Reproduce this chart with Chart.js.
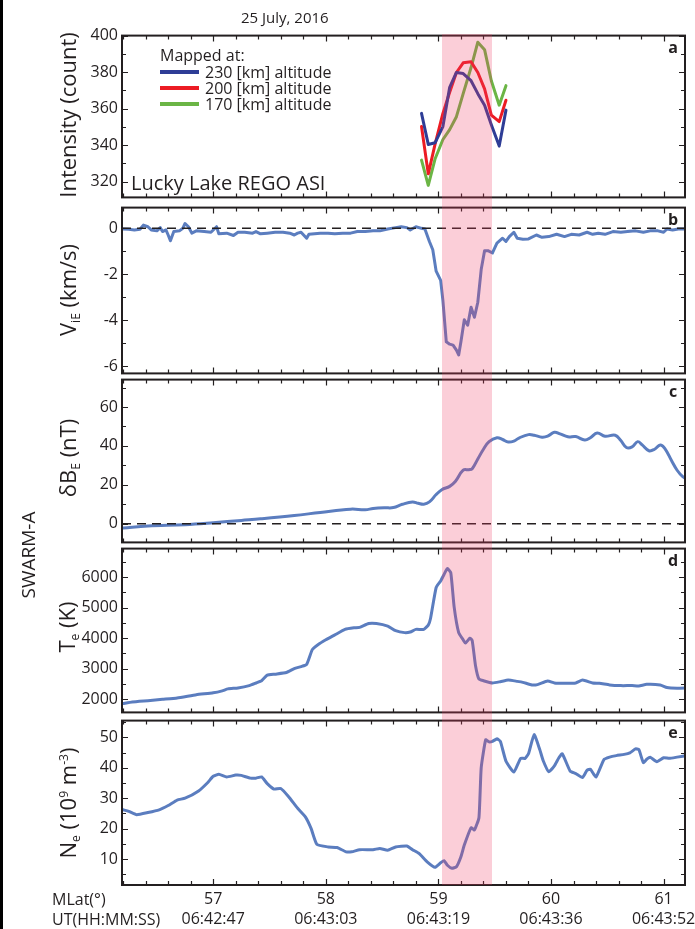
<!DOCTYPE html>
<html>
<head>
<meta charset="utf-8">
<script src="https://cdn.jsdelivr.net/npm/chart.js@4.4.1/dist/chart.umd.min.js"></script>
<style>
  body { margin: 0; background: #fff; font-family: "Open Sans", sans-serif; color: #231f20; }
  #wrap { position: relative; width: 695px; height: 929px; overflow: hidden; background: #fff; }
  canvas { position: absolute; left: 0; }
  .txt { position: absolute; white-space: nowrap; line-height: 1; transform: translateY(-50%); }
  .rot { position: absolute; white-space: nowrap; line-height: 1; transform: translate(-50%, -50%) rotate(-90deg); }
  sub { font-size: 0.55em; vertical-align: -0.35em; line-height: 0; }
  sup { font-size: 0.55em; vertical-align: 0.65em; line-height: 0; }
  .key { position: absolute; height: 4px; width: 39px; transform: translateY(-50%); }
  #band { position: absolute; top: 34px; height: 851px; background: rgba(240, 60, 100, 0.25); pointer-events: none; }
  #edge { position: absolute; left: 0; top: 0; width: 3px; height: 929px; background: #000; }
</style>
</head>
<body>
<div id="wrap">
  <canvas id="cA" width="720" height="189" style="top:22px"></canvas>
  <canvas id="cB" width="720" height="193" style="top:194px"></canvas>
  <canvas id="cC" width="720" height="190" style="top:366px"></canvas>
  <canvas id="cD" width="720" height="191" style="top:535px"></canvas>
  <canvas id="cE" width="720" height="222" style="top:707px"></canvas>
  <div id="band"></div>
  <div id="edge"></div>

  <div class="txt" style="left:241px;top:17px;font-size:15px">25 July, 2016</div>
  <div id="legend"></div>
  <div class="txt" style="left:131px;top:183px;font-size:20px">Lucky Lake REGO ASI</div>

  <div class="rot" style="left:67px;top:115px;font-size:22px">Intensity (count)</div>
  <div class="rot" style="left:67px;top:290px;font-size:22px">V<sub>iE</sub> (km/s)</div>
  <div class="rot" style="left:67px;top:458px;font-size:22px">δB<sub>E</sub> (nT)</div>
  <div class="rot" style="left:28px;top:555px;font-size:19px">SWARM-A</div>
  <div class="rot" style="left:66px;top:627px;font-size:22px">T<sub>e</sub> (K)</div>
  <div class="rot" style="left:67px;top:803px;font-size:22px">N<sub>e</sub> (10<sup>9</sup> m<sup>-3</sup>)</div>

  <div class="txt" style="left:52px;top:899px;font-size:16px">MLat(°)</div>
  <div class="txt" style="left:52px;top:919px;font-size:16px">UT(HH:MM:SS)</div>
</div>

<script>
// x axis
const mlatTicks = [57, 58, 59, 60, 61];
const utTicks = ["06:42:47", "06:43:03", "06:43:19", "06:43:36", "06:43:52"];
const bandMlat = [59.035, 59.48];

// panel a - REGO intensity at three mapping altitudes
const aMlat = [58.85, 58.91, 58.97, 59.04, 59.10, 59.16, 59.22, 59.29, 59.35, 59.41, 59.47, 59.54, 59.60];
const a230 = [357.4, 340.4, 341.3, 350.2, 371.7, 379.8, 379.2, 375.3, 368.2, 361.9, 351.2, 339.5, 359.2];
const a200 = [350.2, 324.3, 340.4, 357.4, 369.0, 379.8, 385.1, 385.7, 379.8, 370.8, 356.5, 352.9, 364.6];
const a170 = [331.8, 318.0, 332.4, 343.1, 348.5, 355.6, 368.2, 382.5, 396.4, 392.3, 375.3, 361.9, 372.6];
const altLabels = ["230 [km] altitude", "200 [km] altitude", "170 [km] altitude"];
const aTicks = [320, 340, 360, 380, 400];

// panel b - V_iE
const bMlat = [56.20,56.25,56.30,56.35,56.38,56.42,56.45,56.50,56.53,56.55,56.58,56.60,56.62,56.65,56.70,56.73,56.75,56.78,56.81,56.85,56.92,56.98,57.03,57.05,57.12,57.18,57.22,57.28,57.35,57.38,57.42,57.48,57.55,57.62,57.68,57.72,57.75,57.78,57.83,57.85,57.95,58.02,58.08,58.15,58.22,58.28,58.35,58.42,58.48,58.55,58.62,58.67,58.72,58.75,58.80,58.85,58.88,58.92,58.95,58.98,59.02,59.04,59.07,59.10,59.13,59.16,59.18,59.20,59.23,59.26,59.29,59.32,59.35,59.38,59.41,59.44,59.48,59.52,59.57,59.60,59.63,59.67,59.70,59.75,59.80,59.87,59.92,59.98,60.05,60.12,60.18,60.25,60.32,60.37,60.42,60.48,60.55,60.62,60.68,60.75,60.82,60.88,60.95,61.00,61.03,61.08,61.13,61.18,61.22];
const bVie = [-0.03,-0.04,-0.07,-0.04,0.14,0.07,-0.07,-0.11,0.03,-0.14,-0.07,-0.29,-0.54,-0.14,-0.11,0.0,0.21,0.07,-0.21,-0.11,-0.14,-0.17,0.07,-0.24,-0.21,-0.31,-0.17,-0.17,-0.21,-0.14,-0.24,-0.21,-0.17,-0.17,-0.21,-0.29,-0.21,-0.17,-0.43,-0.26,-0.21,-0.21,-0.24,-0.21,-0.21,-0.14,-0.14,-0.11,-0.11,-0.03,0.03,0.07,0.03,-0.07,0.07,0.0,-0.03,-0.57,-0.93,-1.86,-2.26,-3.14,-4.93,-5.03,-5.07,-5.29,-5.5,-4.93,-3.97,-4.21,-3.43,-3.86,-3.21,-1.79,-0.97,-0.97,-1.07,-0.64,-0.43,-0.57,-0.36,-0.17,-0.43,-0.47,-0.46,-0.29,-0.39,-0.36,-0.26,-0.36,-0.26,-0.29,-0.17,-0.26,-0.21,-0.26,-0.14,-0.17,-0.14,-0.11,-0.17,-0.11,-0.11,-0.17,-0.03,-0.07,-0.03,-0.03,-0.07];
const bTicks = [0, -2, -4, -6];

// panel c - dB_E
const cMlat = [56.20,56.42,56.75,57.00,57.25,57.42,57.72,57.95,58.22,58.35,58.42,58.52,58.60,58.68,58.77,58.82,58.87,58.92,58.98,59.03,59.10,59.15,59.22,59.27,59.30,59.35,59.40,59.45,59.52,59.57,59.62,59.67,59.72,59.80,59.85,59.92,59.97,60.03,60.08,60.15,60.22,60.30,60.35,60.41,60.48,60.57,60.62,60.67,60.72,60.77,60.81,60.87,60.92,60.97,61.01,61.07,61.12,61.17,61.22];
const cDb = [-2.2,-1.2,-0.5,0.5,1.7,2.5,4.2,5.8,7.5,7.2,7.8,8.2,8.3,10,11.2,10.5,10,11.2,15,17.5,19.2,21.7,27.5,27.8,28.3,33.3,38.3,42.2,44.2,43.3,42,42.5,44.2,45.8,45.5,44.5,45,47,46.2,44.7,44.8,43,44.2,46.7,45,45.5,42.8,39.2,39.5,42.2,40.5,37.5,38.3,40.5,38.8,32.5,27.5,24.2,22.5];
const cTicks = [0, 20, 40, 60];

// panel d - T_e
const dMlat = [56.20,56.28,56.42,56.55,56.68,56.85,57.00,57.08,57.13,57.22,57.32,57.38,57.43,57.48,57.55,57.65,57.72,57.78,57.83,57.88,57.93,58.00,58.08,58.17,58.25,58.30,58.38,58.45,58.55,58.62,58.70,58.75,58.80,58.87,58.91,58.93,58.98,59.02,59.05,59.08,59.11,59.14,59.18,59.22,59.24,59.28,59.30,59.33,59.36,59.40,59.48,59.55,59.62,59.70,59.75,59.83,59.88,59.97,60.03,60.12,60.22,60.28,60.37,60.43,60.52,60.62,60.72,60.78,60.85,60.97,61.03,61.12,61.22];
const dTe = [1861,1914,1957,2000,2043,2150,2214,2278,2342,2374,2449,2535,2610,2791,2824,2877,3005,3070,3144,3626,3786,3947,4107,4289,4342,4353,4481,4481,4396,4246,4182,4203,4289,4289,4428,4642,5658,5872,6085,6278,6139,5016,4182,3947,3840,4000,3925,3091,2663,2610,2535,2578,2631,2588,2556,2471,2481,2599,2535,2524,2535,2631,2535,2524,2471,2449,2449,2438,2492,2471,2385,2364,2374];
const dTicks = [2000, 3000, 4000, 5000, 6000];

// panel e - N_e
const eMlat = [56.20,56.25,56.32,56.42,56.52,56.60,56.68,56.75,56.87,56.95,57.00,57.05,57.12,57.20,57.25,57.33,57.38,57.43,57.48,57.54,57.60,57.67,57.75,57.82,57.87,57.92,58.02,58.10,58.18,58.23,58.30,58.42,58.48,58.55,58.62,58.72,58.77,58.83,58.90,58.97,59.02,59.05,59.08,59.12,59.16,59.20,59.23,59.29,59.32,59.36,59.38,59.42,59.45,59.48,59.52,59.55,59.60,59.67,59.73,59.77,59.80,59.85,59.90,59.93,59.98,60.03,60.07,60.10,60.17,60.22,60.28,60.32,60.35,60.40,60.47,60.52,60.58,60.65,60.70,60.75,60.78,60.82,60.85,60.88,60.94,61.00,61.05,61.12,61.22];
const eNe = [26.2,25.7,24.6,25.3,26.2,27.6,29.4,30.0,32.4,35.1,37.2,37.9,37.0,37.6,37.5,36.6,36.6,37.0,34.8,33.0,33.2,30.5,26.7,23.8,20.0,14.9,14.0,13.8,12.4,12.4,13.1,13.1,13.5,12.9,14.0,14.3,13.1,11.8,9.1,7.3,8.8,9.5,8.0,7.0,7.5,10.8,14.6,20.3,19.6,23.6,40.0,49.2,48.5,48.7,49.5,48.7,42.2,38.6,43.1,43.1,44.6,50.9,46.0,42.4,38.7,40.6,43.3,44.6,38.9,38.1,36.8,39.2,39.5,37.0,42.7,43.5,44.0,44.4,44.9,46.2,46.0,41.7,42.8,43.5,42.0,43.3,43.1,43.5,44.1];
const eTicks = [10, 20, 30, 40, 50];

const ink = "#231f20";
const swarmBlue = "#5b7dbf";
const altColors = ["#2e3d96", "#ec1c24", "#6bb545"];
const fontFamily = '"Open Sans", sans-serif';
const xMin = 56.19, xMax = 61.19;

function pts(xs, ys) {
  return xs.map((x, i) => ({ x: x, y: ys[i] }));
}

// frame, inward ticks, zero line and panel letter
const panelPlugin = {
  id: "panel",
  afterDatasetsDraw(chart, args, opts) {
    const ctx = chart.ctx;
    const ca = chart.chartArea;
    const x = chart.scales.x, y = chart.scales.y;
    ctx.save();
    if (opts.zero) {
      const y0 = y.getPixelForValue(0);
      ctx.strokeStyle = ink;
      ctx.lineWidth = 1.5;
      ctx.setLineDash([9, 6]);
      ctx.beginPath();
      ctx.moveTo(ca.left, y0);
      ctx.lineTo(ca.right, y0);
      ctx.stroke();
      ctx.setLineDash([]);
    }
    ctx.strokeStyle = ink;
    ctx.lineWidth = 1.2;
    ctx.beginPath();
    for (let v = 56.2; v < xMax; v += 0.2) {
      const major = Math.abs(v - Math.round(v)) < 0.01;
      const len = major ? 6 : 4;
      const px = Math.round(x.getPixelForValue(v)) + 0.5;
      ctx.moveTo(px, ca.top); ctx.lineTo(px, ca.top + len);
      ctx.moveTo(px, ca.bottom); ctx.lineTo(px, ca.bottom - len);
    }
    const step = opts.minor;
    for (let v = Math.ceil(y.min / step) * step; v <= y.max; v += step) {
      const major = Math.abs(v / opts.major - Math.round(v / opts.major)) < 0.01;
      const len = major ? 6 : 4;
      const py = Math.round(y.getPixelForValue(v)) + 0.5;
      ctx.moveTo(ca.left, py); ctx.lineTo(ca.left + len, py);
      ctx.moveTo(ca.right, py); ctx.lineTo(ca.right - len, py);
    }
    ctx.stroke();
    ctx.lineWidth = 2;
    ctx.strokeRect(ca.left, ca.top, ca.right - ca.left, ca.bottom - ca.top);
    ctx.fillStyle = ink;
    ctx.font = "bold 16px " + fontFamily;
    ctx.textAlign = "center";
    ctx.textBaseline = "middle";
    ctx.fillText(opts.letter, ca.right - 12, ca.top + 13);
    ctx.restore();
  }
};

function makePanel(id, datasets, yMin, yMax, yTicks, major, minor, letter, zero, showX) {
  return new Chart(document.getElementById(id), {
    type: "line",
    data: { datasets: datasets },
    options: {
      responsive: false,
      animation: false,
      devicePixelRatio: 1,
      layout: { padding: { top: 12, bottom: showX ? 0 : 12, left: 0, right: 35 } },
      elements: { point: { radius: 0 }, line: { borderWidth: 3, borderJoinStyle: "round", borderCapStyle: "round" } },
      plugins: {
        legend: { display: false },
        tooltip: { enabled: false },
        panel: { letter: letter, zero: zero, major: major, minor: minor }
      },
      scales: {
        x: {
          type: "linear",
          min: xMin,
          max: xMax,
          display: showX,
          grid: { display: false, drawTicks: false },
          border: { display: false },
          afterBuildTicks: s => { s.ticks = mlatTicks.map(v => ({ value: v })); },
          afterFit: s => { s.height = showX ? 44 : 0; },
          ticks: {
            autoSkip: false,
            maxRotation: 0,
            padding: 4,
            color: ink,
            font: { family: fontFamily, size: 16, lineHeight: 1.25 },
            callback: (v, i) => [String(mlatTicks[i]), utTicks[i]]
          }
        },
        y: {
          type: "linear",
          min: yMin,
          max: yMax,
          grid: { display: false, drawTicks: false },
          border: { display: false },
          afterBuildTicks: s => { s.ticks = yTicks.map(v => ({ value: v })); },
          afterFit: s => { s.width = 122; },
          ticks: {
            padding: 4,
            color: ink,
            font: { family: fontFamily, size: 16 },
            callback: v => String(v)
          }
        }
      }
    },
    plugins: [panelPlugin]
  });
}

const aSets = [a230, a200, a170].map((vals, i) => ({
  label: altLabels[i],
  data: pts(aMlat, vals),
  borderColor: altColors[i],
  tension: 0
}));
makePanel("cA", aSets, 311.4, 400, aTicks, 20, 10, "a", false, false);
makePanel("cB", [{ data: pts(bMlat, bVie), borderColor: swarmBlue, tension: 0 }], -6.3, 0.9, bTicks, 2, 1, "b", true, false);
makePanel("cC", [{ data: pts(cMlat, cDb), borderColor: swarmBlue, tension: 0.4 }], -9.6, 74.1, cTicks, 20, 10, "c", true, false);
makePanel("cD", [{ data: pts(dMlat, dTe), borderColor: swarmBlue, tension: 0.15 }], 1573, 6930, dTicks, 1000, 500, "d", false, false);
const chartE = makePanel("cE", [{ data: pts(eMlat, eNe), borderColor: swarmBlue, tension: 0.15 }], 1.5, 55.5, eTicks, 10, 5, "e", false, true);

// shaded interval across all panels, placed with the shared x scale
const band = document.getElementById("band");
const bx0 = chartE.scales.x.getPixelForValue(bandMlat[0]);
const bx1 = chartE.scales.x.getPixelForValue(bandMlat[1]);
band.style.left = bx0 + "px";
band.style.width = (bx1 - bx0) + "px";

// legend for panel a
const legend = document.getElementById("legend");
let html = '<div class="txt" style="left:160px;top:55px;font-size:16px">Mapped at:</div>';
const rowY = [72, 88, 104];
altLabels.forEach((lab, i) => {
  html += '<div class="key" style="left:160px;top:' + rowY[i] + 'px;background:' + altColors[i] + '"></div>';
  html += '<div class="txt" style="left:205px;top:' + rowY[i] + 'px;font-size:16px">' + lab + '</div>';
});
legend.innerHTML = html;
</script>
</body>
</html>
